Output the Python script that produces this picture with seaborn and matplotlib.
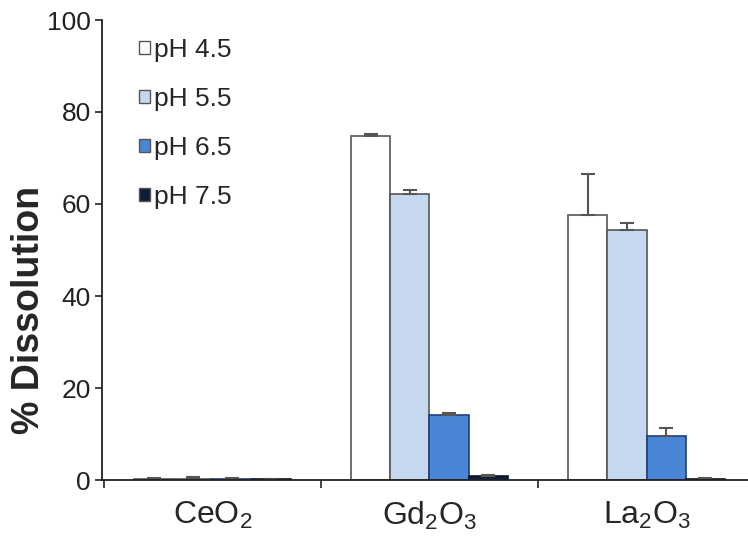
import matplotlib
matplotlib.use("Agg")
import matplotlib.pyplot as plt
import seaborn as sns
import pandas as pd
from matplotlib.ticker import FixedLocator

# data
oxides = ["CeO$_2$", "Gd$_2$O$_3$", "La$_2$O$_3$"]
ph_levels = ["pH 4.5", "pH 5.5", "pH 6.5", "pH 7.5"]
dissolution = {
    "pH 4.5": [0.3, 74.8, 57.6],
    "pH 5.5": [0.3, 62.2, 54.3],
    "pH 6.5": [0.3, 14.1, 9.6],
    "pH 7.5": [0.2, 0.8, 0.3],
}
errors = {
    "pH 4.5": [0.1, 0.4, 8.9],
    "pH 5.5": [0.4, 0.8, 1.6],
    "pH 6.5": [0.1, 0.4, 1.8],
    "pH 7.5": [0.1, 0.3, 0.1],
}
colors = ["#ffffff", "#c6d8ef", "#4a86d6", "#0e1d38"]
edges = ["#555555", "#555555", "#1f3f7a", "#0a1428"]

sns.set_style("white")
plt.rcParams["font.family"] = ["Liberation Sans", "DejaVu Sans"]
plt.rcParams["mathtext.fontset"] = "custom"
plt.rcParams["mathtext.rm"] = "Liberation Sans"
plt.rcParams["mathtext.default"] = "regular"

rows = []
for ph in ph_levels:
    for ox, v in zip(oxides, dissolution[ph]):
        rows.append({"oxide": ox, "pH": ph, "value": v})
df = pd.DataFrame(rows)

fig = plt.figure(figsize=(7.48, 5.36), dpi=100)
ax = fig.add_axes([101.8 / 748, 1 - 480 / 536, (748.5 - 101.8) / 748, 460 / 536])

sns.barplot(data=df, x="oxide", y="value", hue="pH", order=oxides,
            hue_order=ph_levels, palette=colors, width=0.724, gap=0,
            saturation=1, errorbar=None, ax=ax)

# edges and upward error bars
for i, (cont, ph) in enumerate(zip(ax.containers, ph_levels)):
    for bar, err in zip(cont, errors[ph]):
        bar.set_edgecolor(edges[i])
        bar.set_linewidth(1.2)
        cx = bar.get_x() + bar.get_width() / 2
        ax.errorbar(cx, bar.get_height(), yerr=[[0], [err]], fmt="none",
                    ecolor="#555555", elinewidth=1.5, capsize=5, capthick=1.5)

ax.set_xlim(-0.51, 2.47)
ax.set_ylim(0, 100)
ax.set_yticks([0, 20, 40, 60, 80, 100])
ax.tick_params(axis="y", labelsize=19, length=5, width=1.2, direction="out",
               left=True, pad=3, colors="#222222")
ax.tick_params(axis="x", which="major", length=0, labelsize=23, pad=14)
ax.xaxis.set_minor_locator(FixedLocator([-0.5, 0.5, 1.5, 2.5]))
ax.tick_params(axis="x", which="minor", length=6, width=1.2, direction="out",
               bottom=True, color="#222222")
ax.set_xlabel("")
ax.set_ylabel("% Dissolution", fontsize=27, fontweight="bold")
ax.yaxis.set_label_coords(-0.085, 0.37)

sns.despine(ax=ax)
for s in ["left", "bottom"]:
    ax.spines[s].set_linewidth(1.3)
    ax.spines[s].set_color("#222222")

leg = ax.legend(loc="upper left", bbox_to_anchor=(0.021, 1.013), frameon=False,
                fontsize=19, handlelength=0.4, handleheight=0.4,
                handletextpad=0.15, labelspacing=0.95)
for h in leg.legend_handles:
    h.set_edgecolor("#555555")
    h.set_linewidth(1.0)

fig.savefig("out.png", dpi=100)
